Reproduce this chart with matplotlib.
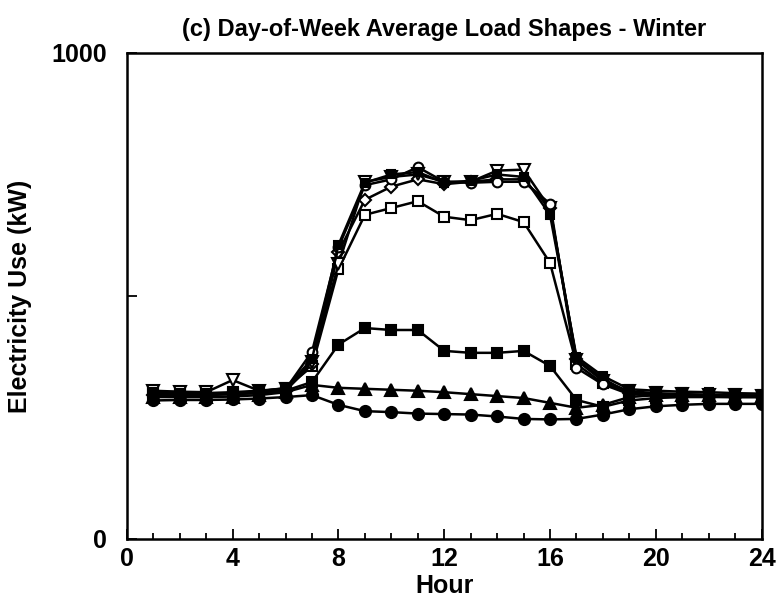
import matplotlib
matplotlib.use('Agg')
import matplotlib.pyplot as plt
from matplotlib.ticker import MultipleLocator, FixedLocator

plt.rcParams['font.family'] = ['Liberation Sans', 'DejaVu Sans']
plt.rcParams['font.weight'] = 'bold'
plt.rcParams['axes.labelweight'] = 'bold'
plt.rcParams['axes.titleweight'] = 'bold'

hours = list(range(1, 25))

# day-of-week load shapes (kW)
mon = [300, 298, 296, 298, 302, 308, 385, 600, 728, 740, 765, 735, 733, 735, 735, 690, 352, 318, 298, 295, 294, 293, 292, 292]
tue = [297, 296, 296, 300, 300, 305, 360, 590, 698, 725, 740, 730, 735, 740, 740, 680, 370, 330, 300, 298, 296, 294, 293, 293]
wed = [305, 303, 302, 327, 305, 308, 365, 565, 735, 745, 750, 735, 735, 758, 760, 680, 368, 325, 304, 300, 298, 297, 296, 295]
thu = [302, 300, 300, 300, 304, 310, 370, 605, 733, 750, 755, 733, 737, 750, 745, 667, 375, 335, 308, 305, 303, 302, 300, 299]
fri = [303, 302, 300, 302, 305, 310, 355, 555, 667, 681, 695, 663, 656, 669, 652, 568, 360, 320, 302, 298, 296, 295, 294, 293]
sat = [300, 298, 298, 298, 300, 305, 323, 400, 434, 430, 430, 387, 383, 383, 387, 356, 286, 272, 285, 290, 292, 292, 292, 292]
sun = [292, 292, 292, 293, 296, 302, 317, 311, 309, 307, 305, 302, 298, 294, 290, 280, 270, 276, 292, 296, 297, 296, 295, 295]
hol = [285, 286, 286, 287, 289, 292, 296, 276, 263, 261, 258, 257, 256, 252, 247, 246, 247, 256, 267, 273, 276, 278, 278, 278]

fig = plt.figure(figsize=(7.78, 6.09), dpi=100)
ax = fig.add_axes([0.163, 0.115, 0.816, 0.798])

def draw(vals, marker, filled, ms=7):
    ax.plot(hours, vals, color='black', lw=1.8, marker=marker, ms=ms,
            mfc='black' if filled else 'white', mec='black', mew=1.5)

draw(fri, 's', False)
draw(tue, 'D', False, 6)
draw(wed, 'v', False, 8)
draw(mon, 'o', False)
draw(thu, 's', True, 6)
draw(sat, 's', True)
draw(sun, '^', True, 8)
draw(hol, 'o', True, 8)

ax.set_xlim(0, 24)
ax.set_ylim(0, 1000)
ax.xaxis.set_major_locator(MultipleLocator(4))
ax.xaxis.set_minor_locator(MultipleLocator(1))
ax.yaxis.set_major_locator(FixedLocator([0, 500, 1000]))
ax.set_yticklabels(['0', '', '1000'])
ax.tick_params(which='both', direction='in', width=1.3, labelsize=18)
ax.tick_params(axis='y', which='major', length=7, pad=14)
ax.tick_params(axis='x', which='major', length=7, pad=6)
ax.tick_params(which='minor', length=4)
for s in ax.spines.values():
    s.set_linewidth(1.8)

ax.set_xlabel('Hour', fontsize=18, labelpad=2)
ax.set_ylabel('Electricity Use (kW)', fontsize=18, labelpad=14)
ax.set_title('(c) Day-of-Week Average Load Shapes - Winter', fontsize=17, pad=12)

fig.savefig('out.png', dpi=100)
